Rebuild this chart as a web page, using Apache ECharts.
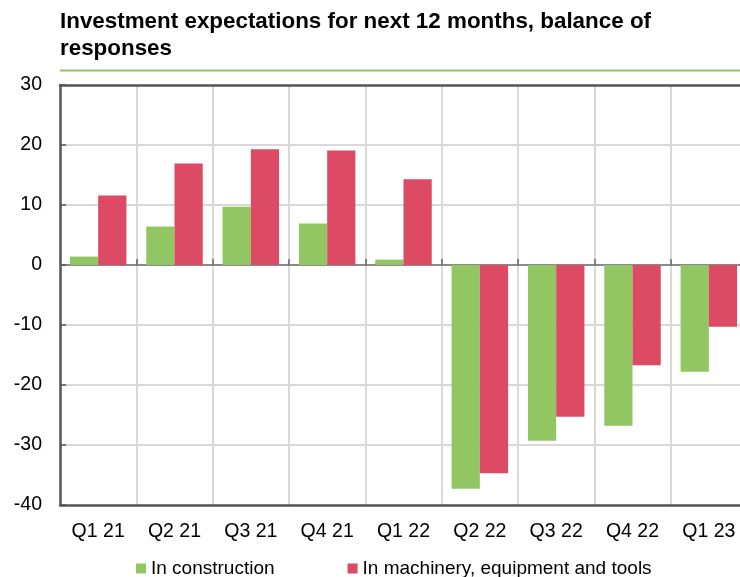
<!DOCTYPE html>
<html>
<head>
<meta charset="utf-8">
<script src="https://cdn.jsdelivr.net/npm/echarts@6/dist/echarts.min.js"></script>
<style>
  html, body { margin: 0; padding: 0; background: #fff; overflow: hidden; width: 740px; height: 577px; }
  #chart { width: 748px; height: 577px; }
</style>
</head>
<body>
<div id="chart"></div>
<script>
const categories = ['Q1 21', 'Q2 21', 'Q3 21', 'Q4 21', 'Q1 22', 'Q2 22', 'Q3 22', 'Q4 22', 'Q1 23']
const construction = [1.4, 6.4, 9.7, 6.9, 0.9, -37.3, -29.3, -26.8, -17.8]
const machinery = [11.6, 16.9, 19.3, 19.1, 14.3, -34.7, -25.3, -16.7, -10.3]
const yTicks = { min: -40, max: 30, step: 10 }

const font = "'Liberation Sans', Arial, sans-serif"
const dark = '#555'
const grey = '#d9d9d9'

// the plot runs past the right edge of the picture, so the canvas is a bit wider than the page
const chart = echarts.init(document.getElementById('chart'))

chart.setOption({
  animation: false,
  textStyle: { fontFamily: font },
  title: {
    text: 'Investment expectations for next 12 months, balance of\nresponses',
    left: 55,
    top: 3,
    textStyle: { fontFamily: font, fontSize: 22.4, fontWeight: 'bold', color: '#000', lineHeight: 27 }
  },
  graphic: [{
    type: 'line',
    shape: { x1: 60, y1: 70.5, x2: 748, y2: 70.5 },
    style: { stroke: '#92c663', lineWidth: 2 }
  }],
  legend: {
    left: 131,
    top: 554,
    icon: 'rect',
    itemWidth: 10,
    itemHeight: 10,
    itemGap: 73,
    textStyle: { fontFamily: font, fontSize: 19, color: '#000' }
  },
  grid: { left: 60, right: 1, top: 85, bottom: 72 },
  xAxis: [
    {
      type: 'category',
      data: categories,
      position: 'bottom',
      axisLine: { onZero: false, lineStyle: { color: dark, width: 2.5 } },
      axisTick: { show: false },
      axisLabel: { fontSize: 19.5, color: '#000', margin: 17 },
      splitLine: { show: true, showMinLine: false, lineStyle: { color: grey, width: 2 } }
    },
    {
      // zero line with the small category ticks
      type: 'category',
      data: categories,
      position: 'bottom',
      axisLine: { onZero: true, lineStyle: { color: '#8a8a8a', width: 2 } },
      axisTick: { show: true, inside: true, length: 6, lineStyle: { color: '#666', width: 1.5 } },
      axisLabel: { show: false },
      splitLine: { show: false }
    },
    {
      type: 'category',
      data: categories,
      position: 'top',
      axisLine: { lineStyle: { color: dark, width: 2.5 } },
      axisTick: { show: false },
      axisLabel: { show: false },
      splitLine: { show: false }
    }
  ],
  yAxis: {
    type: 'value',
    min: yTicks.min,
    max: yTicks.max,
    interval: yTicks.step,
    axisLine: { show: true, lineStyle: { color: dark, width: 2.5 } },
    axisTick: { show: true, inside: true, length: 6, lineStyle: { color: dark, width: 1.5 } },
    axisLabel: { fontSize: 19.5, color: '#000', margin: 18 },
    splitLine: { show: true, showMinLine: false, showMaxLine: false, lineStyle: { color: grey, width: 2 } }
  },
  series: [
    {
      name: 'In construction',
      type: 'bar',
      data: construction,
      itemStyle: { color: '#92c663' },
      barGap: '0%',
      barCategoryGap: '26%'
    },
    {
      name: 'In machinery, equipment and tools',
      type: 'bar',
      data: machinery,
      itemStyle: { color: '#dc4a64' },
      barGap: '0%',
      barCategoryGap: '26%'
    }
  ]
})
</script>
</body>
</html>
